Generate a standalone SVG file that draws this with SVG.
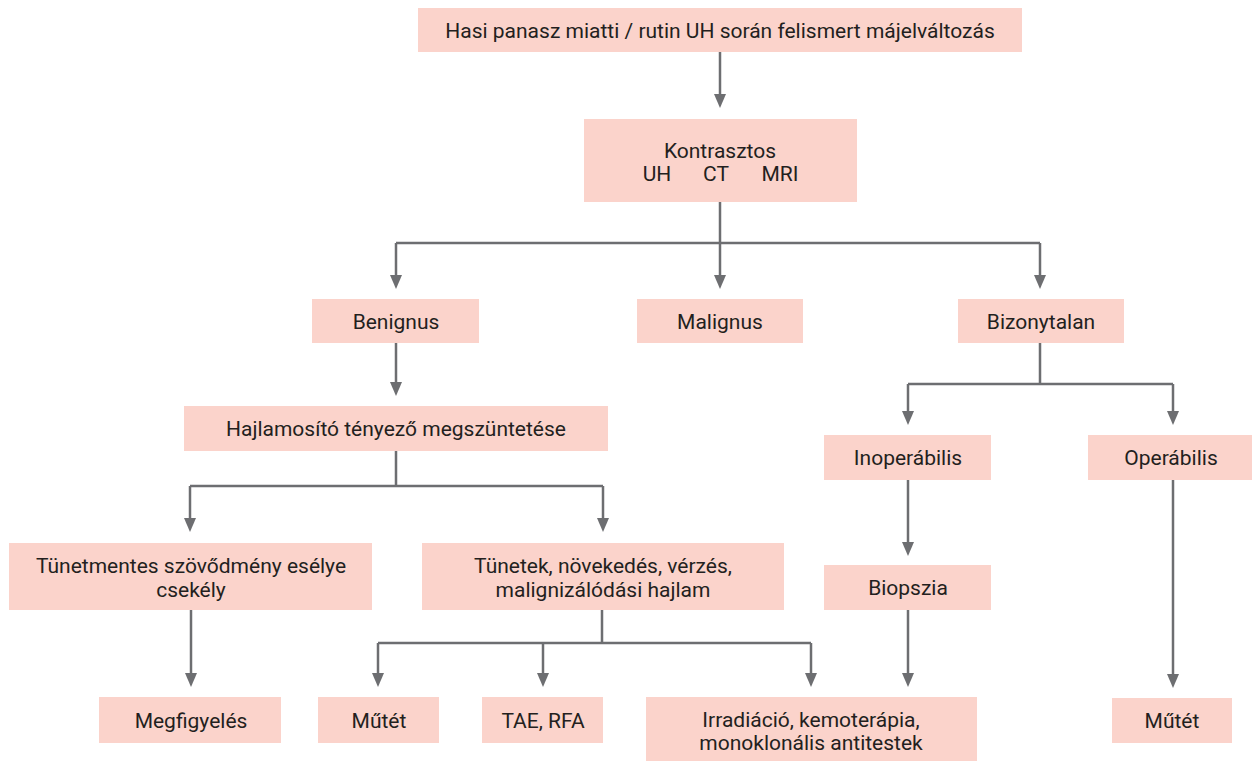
<svg xmlns="http://www.w3.org/2000/svg" width="1252" height="761" viewBox="0 0 1252 761">
<style>
.box{fill:#fbd3cb;}
.t{font-family:Roboto,"Liberation Sans",sans-serif;font-size:21px;fill:#231f20;text-anchor:middle;}
.c{fill:none;stroke:#6d6e71;stroke-width:2.5;}
</style>
<rect width="1252" height="761" fill="#ffffff"/>
<g id="connectors">
<path class="c" d="M720,52 V100"/>
<path class="c" d="M720,202 V243"/>
<path class="c" d="M396,243 H1040"/>
<path class="c" d="M396,243 V280"/>
<path class="c" d="M720,243 V280"/>
<path class="c" d="M1040,243 V280"/>
<path class="c" d="M396,343 V388"/>
<path class="c" d="M396,451 V486 M190,486 H603"/>
<path class="c" d="M190,486 V524"/>
<path class="c" d="M603,486 V524"/>
<path class="c" d="M191,610 V679"/>
<path class="c" d="M602,610 V643 M378,643 H811"/>
<path class="c" d="M378,643 V679"/>
<path class="c" d="M543,643 V679"/>
<path class="c" d="M811,643 V679"/>
<path class="c" d="M1040,343 V384 M908,384 H1173"/>
<path class="c" d="M908,384 V417"/>
<path class="c" d="M1173,384 V417"/>
<path class="c" d="M908,480 V548"/>
<path class="c" d="M908,610 V679"/>
<path class="c" d="M1173,480 V680"/>
</g>
<g id="arrowheads" fill="#6d6e71">
<path d="M714,94 L726,94 L720,108 Z"/>
<path d="M390,275 L402,275 L396,289 Z"/>
<path d="M714,275 L726,275 L720,289 Z"/>
<path d="M1034,275 L1046,275 L1040,289 Z"/>
<path d="M390,382 L402,382 L396,396 Z"/>
<path d="M184,518 L196,518 L190,532 Z"/>
<path d="M597,518 L609,518 L603,532 Z"/>
<path d="M185,673 L197,673 L191,687 Z"/>
<path d="M372,673 L384,673 L378,687 Z"/>
<path d="M537,673 L549,673 L543,687 Z"/>
<path d="M805,673 L817,673 L811,687 Z"/>
<path d="M902,411 L914,411 L908,425 Z"/>
<path d="M1167,411 L1179,411 L1173,425 Z"/>
<path d="M902,542 L914,542 L908,556 Z"/>
<path d="M902,673 L914,673 L908,687 Z"/>
<path d="M1167,674 L1179,674 L1173,688 Z"/>
</g>
<g id="n-top"><rect class="box" x="418" y="8" width="604" height="44"/><text class="t" x="720" y="38">Hasi panasz miatti / rutin UH során felismert májelváltozás</text></g>
<g id="n-kontraszt"><rect class="box" x="584" y="119" width="273" height="83"/><text class="t" x="720" y="158">Kontrasztos</text><text class="t" x="657" y="181">UH</text><text class="t" x="716" y="181">CT</text><text class="t" x="780" y="181">MRI</text></g>
<g id="n-benignus"><rect class="box" x="312" y="299" width="167" height="44"/><text class="t" x="396" y="329">Benignus</text></g>
<g id="n-malignus"><rect class="box" x="637" y="299" width="166" height="44"/><text class="t" x="720" y="329">Malignus</text></g>
<g id="n-bizonytalan"><rect class="box" x="958" y="299" width="166" height="44"/><text class="t" x="1041" y="329">Bizonytalan</text></g>
<g id="n-hajlam"><rect class="box" x="184" y="406" width="424" height="45"/><text class="t" x="396" y="436">Hajlamosító tényező megszüntetése</text></g>
<g id="n-tunetmentes"><rect class="box" x="9" y="543" width="363" height="67"/><text class="t" x="191" y="573">Tünetmentes szövődmény esélye</text><text class="t" x="191" y="597">csekély</text></g>
<g id="n-tunetek"><rect class="box" x="422" y="543" width="362" height="67"/><text class="t" x="603" y="573">Tünetek, növekedés, vérzés,</text><text class="t" x="603" y="597">malignizálódási hajlam</text></g>
<g id="n-inoperabilis"><rect class="box" x="824" y="435" width="167" height="45"/><text class="t" x="908" y="465">Inoperábilis</text></g>
<g id="n-operabilis"><rect class="box" x="1088" y="435" width="164" height="45"/><text class="t" x="1171" y="465">Operábilis</text></g>
<g id="n-biopszia"><rect class="box" x="824" y="565" width="167" height="45"/><text class="t" x="908" y="595">Biopszia</text></g>
<g id="n-megfigyeles"><rect class="box" x="99" y="697" width="182" height="46"/><text class="t" x="191" y="728">Megfigyelés</text></g>
<g id="n-mutet1"><rect class="box" x="318" y="697" width="121" height="46"/><text class="t" x="379" y="728">Műtét</text></g>
<g id="n-tae"><rect class="box" x="482" y="697" width="121" height="46"/><text class="t" x="543" y="728">TAE, RFA</text></g>
<g id="n-irradiacio"><rect class="box" x="646" y="697" width="331" height="64"/><text class="t" x="811" y="727">Irradiáció, kemoterápia,</text><text class="t" x="811" y="750">monoklonális antitestek</text></g>
<g id="n-mutet2"><rect class="box" x="1112" y="698" width="120" height="45"/><text class="t" x="1172" y="728">Műtét</text></g>
</svg>
